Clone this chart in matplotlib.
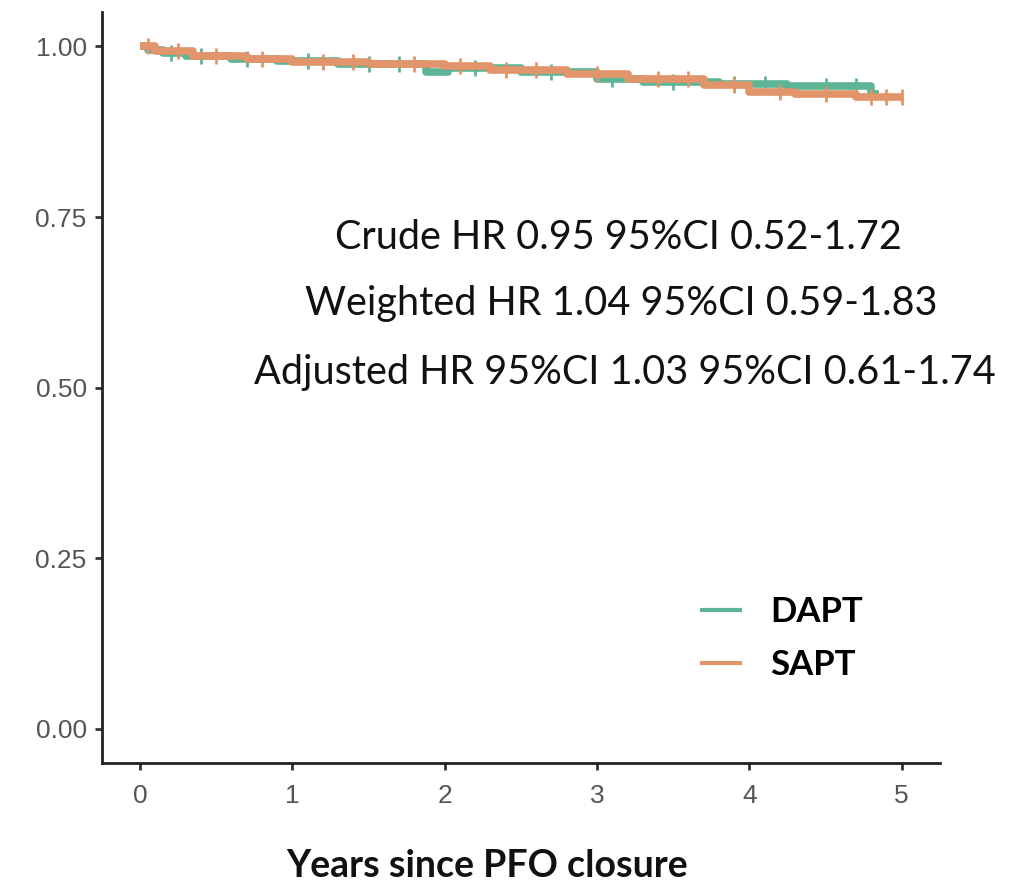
import matplotlib
matplotlib.use("Agg")
import matplotlib.pyplot as plt
import numpy as np

# Step survival data (time in years, survival probability)
dapt_time = [0.0, 0.05, 0.15, 0.30, 0.60, 0.90, 1.30, 1.88, 2.02, 2.50, 3.00, 3.30, 3.80, 4.25, 4.80]
dapt_surv = [1.000, 0.995, 0.990, 0.986, 0.982, 0.978, 0.975, 0.962, 0.968, 0.962, 0.953, 0.948, 0.945, 0.942, 0.930]
dapt_end = 4.85

sapt_time = [0.0, 0.10, 0.35, 0.70, 1.00, 1.50, 2.00, 2.30, 2.80, 3.20, 3.70, 4.00, 4.30, 4.70]
sapt_surv = [1.000, 0.993, 0.986, 0.981, 0.977, 0.974, 0.971, 0.966, 0.960, 0.952, 0.944, 0.934, 0.930, 0.926]
sapt_end = 5.0

dapt_censor = [0.2, 0.4, 0.7, 1.1, 1.5, 1.7, 2.2, 2.7, 3.1, 3.5, 3.9, 4.1, 4.5, 4.7]
sapt_censor = [0.05, 0.25, 0.5, 0.8, 1.2, 1.4, 1.8, 2.1, 2.4, 2.6, 3.0, 3.4, 3.6, 3.9, 4.2, 4.5, 4.8, 4.9, 5.0]

groups = ["DAPT", "SAPT"]
colors = {"DAPT": "#5DB596", "SAPT": "#E2946A"}

annotations = [
    "Crude HR 0.95 95%CI 0.52-1.72",
    "Weighted HR 1.04 95%CI 0.59-1.83",
    "Adjusted HR 95%CI 1.03 95%CI 0.61-1.74",
]
ann_pos = [(3.14, 0.72), (3.16, 0.623), (3.18, 0.522)]

x_ticks = [0, 1, 2, 3, 4, 5]
y_ticks = [0.0, 0.25, 0.5, 0.75, 1.0]
y_ticklabels = ["0.00", "0.25", "0.50", "0.75", "1.00"]

fig = plt.figure(figsize=(10.16, 8.82), dpi=100)
ax = fig.add_axes([0.1004, 0.135, 0.8246, 0.851])


def surv_at(times, survs, t):
    idx = np.searchsorted(times, t, side="right") - 1
    return survs[max(idx, 0)]


for g, times, survs, end, cens in [
    ("DAPT", dapt_time, dapt_surv, dapt_end, dapt_censor),
    ("SAPT", sapt_time, sapt_surv, sapt_end, sapt_censor),
]:
    tt = list(times) + [end]
    ss = list(survs) + [survs[-1]]
    ax.step(tt, ss, where="post", color=colors[g], lw=5.5, solid_capstyle="butt")
    cy = [surv_at(times, survs, c) for c in cens]
    ax.plot(cens, cy, ls="none", marker="|", ms=11, mew=2, color=colors[g])
    ax.plot([], [], color=colors[g], lw=3, label=g)

ax.set_xlim(-0.25, 5.25)
ax.set_ylim(-0.05, 1.05)
ax.set_xticks(x_ticks)
ax.set_xticklabels([str(v) for v in x_ticks])
ax.set_yticks(y_ticks)
ax.set_yticklabels(y_ticklabels)

for s in ["top", "right"]:
    ax.spines[s].set_visible(False)
for s in ["left", "bottom"]:
    ax.spines[s].set_linewidth(2)
    ax.spines[s].set_color("#222222")
ax.tick_params(axis="both", length=5, width=2, color="#333333",
               labelsize=19, labelcolor="#555555")
ax.tick_params(axis="x", pad=10)
ax.tick_params(axis="y", pad=6)
for lab in ax.get_xticklabels() + ax.get_yticklabels():
    lab.set_family("Liberation Sans")

for txt, (x, y) in zip(annotations, ann_pos):
    ax.text(x, y, txt, ha="center", va="center", fontsize=28.5, family="Lato", color="#111111")

ax.set_xlabel("Years since PFO closure", fontsize=27, family="Lato", fontweight="bold",
              color="#111111")
ax.xaxis.set_label_coords(0.46, -0.115)

leg = ax.legend(loc="center left", bbox_to_anchor=(0.679, 0.166), frameon=False,
                prop={"family": "Lato", "weight": "bold", "size": 25},
                handlelength=1.1, handletextpad=0.85, labelspacing=0.6)

fig.savefig("out.png", dpi=100, facecolor="white")
